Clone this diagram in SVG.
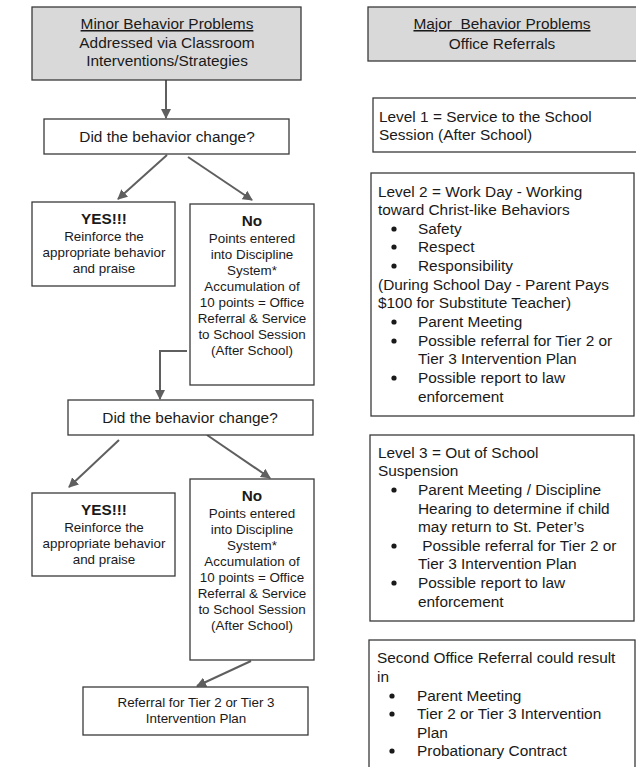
<svg xmlns="http://www.w3.org/2000/svg" width="636" height="767" viewBox="0 0 636 767">
<defs>
<style>
.box{fill:#fff;stroke:#3a3a3a;stroke-width:1.3}
.hdr{fill:#d9d9d9;stroke:#3a3a3a;stroke-width:1.3}
.t{font-family:"Liberation Sans",Arial,sans-serif;fill:#1a1a1a}
.c{text-anchor:middle}
.s{font-size:13.4px}
.m{font-size:15.4px}
.b{font-weight:bold;font-size:15.3px}
.u{text-decoration:underline}
.con{stroke:#5f5f5f;stroke-width:2;fill:none}
.dot{fill:#1a1a1a}
</style>
<marker id="ah" viewBox="0 0 10 10" refX="9" refY="5" markerWidth="5" markerHeight="5" orient="auto" markerUnits="strokeWidth">
<path d="M0,0 L10,5 L0,10 z" fill="#5f5f5f"/>
</marker>
<marker id="ahb" viewBox="0 0 10 10" refX="9" refY="5" markerWidth="7" markerHeight="5" orient="auto" markerUnits="strokeWidth">
<path d="M0,0 L10,5 L0,10 z" fill="#5f5f5f"/>
</marker>
</defs>
<rect width="636" height="767" fill="#fff"/>

<g id="connectors">
<line class="con" x1="166" y1="80" x2="166" y2="118" stroke-width="2.2" marker-end="url(#ahb)"/>
<line class="con" x1="167" y1="155" x2="118" y2="199" marker-end="url(#ah)"/>
<line class="con" x1="188" y1="157" x2="252" y2="200" marker-end="url(#ah)"/>
<polyline class="con" points="187,351 160,351 160,399" marker-end="url(#ah)"/>
<line class="con" x1="119" y1="440" x2="69" y2="487" marker-end="url(#ah)"/>
<line class="con" x1="207" y1="435" x2="270" y2="478" marker-end="url(#ah)"/>
<line class="con" x1="251" y1="661" x2="197" y2="686" marker-end="url(#ah)"/>
</g>

<g id="minor-header">
<rect class="hdr" x="32" y="7" width="269" height="73"/>
<text class="t c m u" x="167" y="29">Minor Behavior Problems</text>
<text class="t c m" x="167" y="48">Addressed via Classroom</text>
<text class="t c m" x="167" y="66">Interventions/Strategies</text>
</g>

<g id="question1">
<rect class="box" x="44" y="119" width="245" height="35"/>
<text class="t c m" x="167" y="142">Did the behavior change?</text>
</g>

<g id="yes1">
<rect class="box" x="32" y="202" width="143" height="84"/>
<text class="t c b" x="104" y="224">YES!!!</text>
<text class="t c s" x="104" y="241">Reinforce the</text>
<text class="t c s" x="104" y="257">appropriate behavior</text>
<text class="t c s" x="104" y="273">and praise</text>
</g>

<g id="no1">
<rect class="box" x="190" y="204" width="124" height="181"/>
<text class="t c b" x="252" y="226">No</text>
<text class="t c s" x="252" y="243">Points entered</text>
<text class="t c s" x="252" y="259">into Discipline</text>
<text class="t c s" x="252" y="275">System*</text>
<text class="t c s" x="252" y="291">Accumulation of</text>
<text class="t c s" x="252" y="307">10 points = Office</text>
<text class="t c s" x="252" y="323">Referral &amp; Service</text>
<text class="t c s" x="252" y="339">to School Session</text>
<text class="t c s" x="252" y="355">(After School)</text>
</g>

<g id="question2">
<rect class="box" x="68" y="400" width="245" height="35"/>
<text class="t c m" x="190" y="423">Did the behavior change?</text>
</g>

<g id="yes2">
<rect class="box" x="32" y="493" width="143" height="83"/>
<text class="t c b" x="104" y="515">YES!!!</text>
<text class="t c s" x="104" y="532">Reinforce the</text>
<text class="t c s" x="104" y="548">appropriate behavior</text>
<text class="t c s" x="104" y="564">and praise</text>
</g>

<g id="no2">
<rect class="box" x="190" y="479" width="124" height="181"/>
<text class="t c b" x="252" y="501">No</text>
<text class="t c s" x="252" y="518">Points entered</text>
<text class="t c s" x="252" y="534">into Discipline</text>
<text class="t c s" x="252" y="550">System*</text>
<text class="t c s" x="252" y="566">Accumulation of</text>
<text class="t c s" x="252" y="582">10 points = Office</text>
<text class="t c s" x="252" y="598">Referral &amp; Service</text>
<text class="t c s" x="252" y="614">to School Session</text>
<text class="t c s" x="252" y="630">(After School)</text>
</g>

<g id="referral">
<rect class="box" x="83" y="687" width="225" height="48"/>
<text class="t c s" x="196" y="707">Referral for Tier 2 or Tier 3</text>
<text class="t c s" x="196" y="723">Intervention Plan</text>
</g>

<g id="major-header">
<rect class="hdr" x="368" y="7" width="270" height="54"/>
<text class="t c m u" x="502" y="29" xml:space="preserve">Major  Behavior Problems</text>
<text class="t c m" x="502" y="49">Office Referrals</text>
</g>

<g id="level1">
<rect class="box" x="373" y="98" width="265" height="54"/>
<text class="t m" x="379" y="122">Level 1 = Service to the School</text>
<text class="t m" x="379" y="140">Session (After School)</text>
</g>

<g id="level2">
<rect class="box" x="371" y="173" width="263" height="243"/>
<text class="t m" x="378" y="197">Level 2 = Work Day - Working</text>
<text class="t m" x="378" y="215">toward Christ-like Behaviors</text>
<circle class="dot" cx="394" cy="229" r="2.6"/>
<text class="t m" x="418" y="234">Safety</text>
<circle class="dot" cx="394" cy="247" r="2.6"/>
<text class="t m" x="418" y="252">Respect</text>
<circle class="dot" cx="394" cy="266" r="2.6"/>
<text class="t m" x="418" y="271">Responsibility</text>
<text class="t m" x="378" y="290">(During School Day - Parent Pays</text>
<text class="t m" x="378" y="308">$100 for Substitute Teacher)</text>
<circle class="dot" cx="394" cy="322" r="2.6"/>
<text class="t m" x="418" y="327">Parent Meeting</text>
<circle class="dot" cx="394" cy="341" r="2.6"/>
<text class="t m" x="418" y="346">Possible referral for Tier 2 or</text>
<text class="t m" x="418" y="364">Tier 3 Intervention Plan</text>
<circle class="dot" cx="394" cy="378" r="2.6"/>
<text class="t m" x="418" y="383">Possible report to law</text>
<text class="t m" x="418" y="402">enforcement</text>
</g>

<g id="level3">
<rect class="box" x="370" y="435" width="264" height="186"/>
<text class="t m" x="378" y="458">Level 3 = Out of School</text>
<text class="t m" x="378" y="476">Suspension</text>
<circle class="dot" cx="394" cy="490" r="2.6"/>
<text class="t m" x="418" y="495">Parent Meeting / Discipline</text>
<text class="t m" x="418" y="514">Hearing to determine if child</text>
<text class="t m" x="418" y="532">may return to St. Peter’s</text>
<circle class="dot" cx="394" cy="546" r="2.6"/>
<text class="t m" x="418" y="551" xml:space="preserve"> Possible referral for Tier 2 or</text>
<text class="t m" x="418" y="569">Tier 3 Intervention Plan</text>
<circle class="dot" cx="394" cy="583" r="2.6"/>
<text class="t m" x="418" y="588">Possible report to law</text>
<text class="t m" x="418" y="607">enforcement</text>
</g>

<g id="second-referral">
<rect class="box" x="369" y="640" width="266" height="140"/>
<text class="t m" x="377" y="663">Second Office Referral could result</text>
<text class="t m" x="377" y="682">in</text>
<circle class="dot" cx="392" cy="696" r="2.6"/>
<text class="t m" x="417" y="701">Parent Meeting</text>
<circle class="dot" cx="392" cy="714" r="2.6"/>
<text class="t m" x="417" y="719">Tier 2 or Tier 3 Intervention</text>
<text class="t m" x="417" y="738">Plan</text>
<circle class="dot" cx="392" cy="751" r="2.6"/>
<text class="t m" x="417" y="756">Probationary Contract</text>
</g>
</svg>
